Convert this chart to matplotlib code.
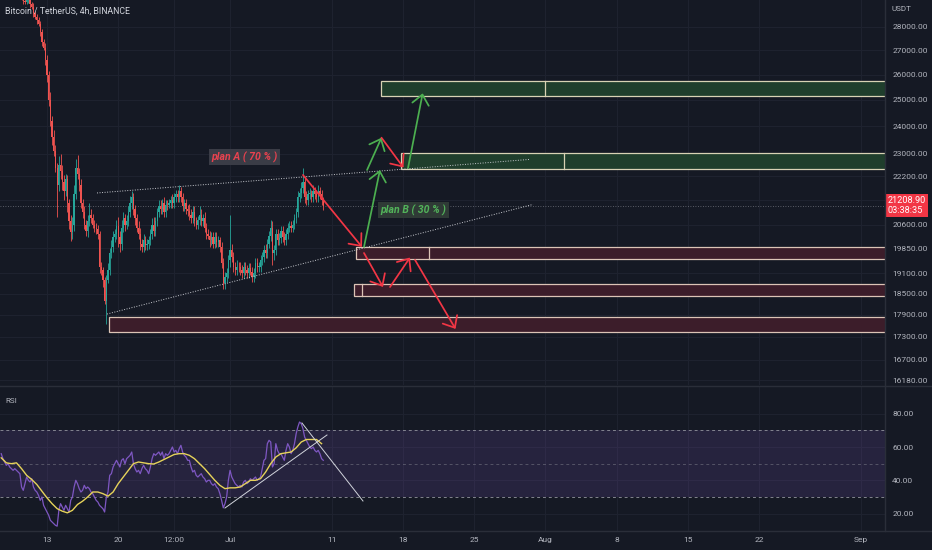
import numpy as np
import matplotlib
matplotlib.use("Agg")
import matplotlib.pyplot as plt
from matplotlib.lines import Line2D
from matplotlib.patches import Rectangle
import matplotlib.transforms as mtransforms
from matplotlib.ticker import NullLocator

plt.rcParams['font.family'] = ['Roboto', 'DejaVu Sans']

BG = '#151924'
GRID = '#1f2330'
SEP = '#2a2e39'
TXT = '#b2b5be'
UP = '#26a69a'
DN = '#ef5350'
ARROW_RED = '#f23645'
ARROW_GREEN = '#4caf50'

# ---------------- data (time = days since 2022-06-01 00:00) ----------------
first_candle_day = 8.0          # 9 Jun 00:00, 4h candles
candle_step = 1 / 6
first_open = 30100
closes = [
    30150, 30300, 30250, 30050, 30200, 30100,   # Jun 9
    30000, 29900, 29600, 29300, 29150, 29100,   # Jun 10
    29200, 29300, 29000, 28900, 28600, 28450,   # Jun 11
    28300, 28150, 27800, 27350, 27100, 26600,   # Jun 12
    26000, 25000, 24200, 23600, 23100, 22500,   # Jun 13
    21900, 22600, 22400, 22000, 21700, 22100,   # Jun 14
    21300, 20700, 20350, 20600, 21600, 22500,   # Jun 15
    22300, 21900, 21300, 21000, 20600, 20400,   # Jun 16
    20700, 20900, 20800, 20600, 20500, 20450,   # Jun 17
    20300, 19300, 19200, 18900, 18300, 18900,   # Jun 18
    19200, 19700, 19900, 20200, 20300, 20550,   # Jun 19
    20200, 20000, 20500, 20800, 20600, 20700,   # Jun 20
    21000, 21300, 21500, 21100, 20800, 20500,   # Jun 21
    20300, 20000, 19900, 20100, 19950, 19980,   # Jun 22
    20100, 20300, 20600, 20400, 20700, 21000,   # Jun 23
    21200, 21100, 21300, 21000, 21250, 21230,   # Jun 24
    21300, 21400, 21300, 21500, 21600, 21500,   # Jun 25
    21700, 21500, 21200, 21300, 21100, 21030,   # Jun 26
    20900, 20800, 21000, 20700, 20600, 20730,   # Jun 27
    20900, 20700, 20800, 20500, 20300, 20250,   # Jun 28
    20100, 20200, 20000, 20200, 20050, 20100,   # Jun 29
    19900, 19400, 18800, 19000, 19100, 19500,   # Jun 30
    19800, 19600, 19300, 19200, 19300, 19280,   # Jul 1
    19200, 19100, 19300, 19200, 19100, 19250,   # Jul 2
    19150, 19000, 19100, 19400, 19300, 19300,   # Jul 3
    19500, 19600, 19800, 19700, 20000, 20230,   # Jul 4
    20500, 19700, 19800, 20300, 20100, 20180,   # Jul 5
    20400, 20200, 20100, 20300, 20500, 20550,   # Jul 6
    20500, 20600, 20800, 21000, 21500, 21620,   # Jul 7
    21800, 22000, 21500, 21400, 21600, 21600,   # Jul 8
    21500, 21700, 21600, 21500, 21700, 21600,   # Jul 9
    21400, 21208.9,                             # Jul 10
]
wick_up = [
    150, 100, 150, 120, 100, 100,
    100, 120, 100, 150, 100, 120,
    150, 120, 100, 100, 150, 100,
    100, 150, 100, 120, 150, 200,
    200, 150, 300, 200, 250, 200,
    150, 300, 400, 200, 250, 200,
    150, 150, 200, 250, 300, 300,
    450, 200, 200, 150, 200, 150,
    200, 400, 200, 150, 150, 150,
    150, 100, 150, 100, 100, 150,
    200, 150, 200, 200, 150, 200,
    300, 200, 250, 200, 150, 200,
    200, 250, 200, 150, 150, 150,
    200, 200, 150, 200, 150, 150,
    150, 150, 200, 250, 150, 150,
    200, 200, 150, 200, 150, 150,
    150, 150, 200, 150, 150, 150,
    200, 150, 150, 150, 150, 150,
    250, 200, 200, 200, 150, 150,
    300, 200, 150, 200, 150, 150,
    150, 150, 150, 150, 150, 150,
    100, 150, 150, 150, 150, 150,
    1100, 200, 150, 150, 200, 150,
    150, 150, 150, 150, 150, 150,
    150, 150, 150, 150, 150, 150,
    150, 150, 150, 200, 150, 150,
    250, 200, 150, 150, 150, 150,
    150, 150, 150, 150, 150, 150,
    150, 150, 150, 150, 200, 200,
    200, 500, 200, 200, 150, 200,
    150, 200, 150, 150, 200, 150,
    150, 100,
]
wick_dn = [
    150, 100, 120, 150, 100, 120,
    120, 150, 100, 120, 150, 100,
    100, 120, 150, 100, 150, 120,
    150, 100, 200, 150, 100, 200,
    300, 250, 200, 300, 200, 150,
    1050, 200, 300, 250, 300, 150,
    300, 250, 280, 200, 200, 150,
    200, 200, 150, 200, 150, 150,
    200, 150, 150, 100, 150, 150,
    150, 200, 150, 200, 100, 650,
    100, 150, 150, 150, 150, 150,
    300, 250, 200, 150, 200, 150,
    150, 150, 200, 200, 200, 150,
    150, 200, 150, 150, 150, 150,
    150, 150, 150, 150, 150, 150,
    150, 150, 150, 150, 150, 150,
    100, 150, 150, 150, 150, 150,
    150, 150, 150, 150, 150, 150,
    150, 150, 150, 150, 150, 150,
    150, 150, 150, 150, 150, 100,
    200, 150, 150, 150, 150, 150,
    150, 150, 150, 150, 150, 150,
    200, 150, 150, 150, 150, 150,
    150, 150, 150, 150, 150, 150,
    100, 150, 150, 150, 150, 150,
    150, 150, 150, 150, 150, 150,
    150, 350, 200, 150, 150, 150,
    150, 150, 150, 150, 150, 150,
    150, 150, 150, 150, 150, 150,
    150, 150, 200, 150, 150, 150,
    150, 150, 150, 150, 150, 150,
    150, 150,
]

rsi_start = 7.5                 # 8 Jun 12:00
rsi_vals = [
    56, 53, 51,
    49, 50, 48, 47, 46, 47,
    46, 45, 44, 36, 34, 38,
    42, 40, 39, 41, 36, 34,
    33, 31, 28, 30, 25, 23,
    21, 19, 16, 15, 14, 13,
    12.5, 22, 26, 24, 22, 25,
    23, 21, 28, 30, 36, 40,
    38, 35, 33, 34, 37, 35,
    36, 35, 33, 32, 30, 28,
    27, 25, 24, 23, 21, 30,
    33, 43, 44, 48, 50, 52,
    50, 48, 52, 53, 50, 53,
    54, 55, 57, 50, 47, 45,
    46, 44, 47, 49, 47, 46,
    44, 48, 53, 56, 55, 56,
    57, 55, 57, 53, 56, 55,
    56, 58, 60, 57, 58, 56,
    59, 61, 57, 55, 54, 52,
    52, 48, 45, 46, 43, 42,
    43, 44, 42, 41, 39, 40,
    40, 38, 37, 38, 36, 35,
    32, 28, 23.5, 26, 30, 40,
    46, 42, 40, 38, 37, 36,
    37, 36, 39, 40, 38, 39,
    41, 40, 41, 42, 40, 41,
    42, 47, 52, 53, 62, 64,
    63, 48, 50, 62, 58, 56,
    56, 54, 52, 58, 62, 60,
    56, 58, 62, 68, 72, 75,
    74, 71, 66, 64, 62, 60,
    59, 60, 58, 57, 58, 56,
    53, 52,
]
rsi_ma_step = 0.5
rsi_ma = [
    53.5, 50.5, 50, 50.5, 47, 43, 40.5, 37.5, 33.5, 29.5,
    26, 23, 21.5, 20.5, 22, 25.5, 27.5, 30, 33, 33,
    32, 30.5, 33, 38, 42, 46, 50, 51, 50.5, 50,
    49.8, 51, 52.5, 54, 55.5, 56, 56, 55, 53, 50,
    47, 43.5, 40, 37, 35, 35.5, 35.5, 36, 38, 40,
    40, 41, 45, 50, 54, 56, 56.5, 57, 59.5, 63,
    64.5, 64.5, 64.5, 62,
]

price_ticks = [28000, 27000, 26000, 25000, 24000, 23000, 22200, 21400,
               20600, 19850, 19100, 18500, 17900, 17300, 16700, 16180]
rsi_ticks = [80, 60, 40, 20]
time_tick_days = [12, 19, 24.5, 30, 40, 47, 54, 61, 68, 75, 82, 92]
time_tick_labels = ['13', '20', '12:00', 'Jul', '11', '18', '25', 'Aug', '8', '15', '22', 'Sep']
last_price = 21208.90
countdown = '03:38:35'

# drawings (anchored in time / price)
zones = [  # start day, low, high, divider day, kind
    (44.84, 25155, 25745, 60.97, 'g'),
    (46.81, 22456, 23022, 62.84, 'g'),
    (42.38, 19517, 19886, 49.56, 'r'),
    (42.14, 18444, 18769, 43.00, 'r'),
    (18.10, 17441, 17852, None, 'r'),
]
trend_lines = [((16.92, 21636), (59.49, 22795)),
               ((17.90, 17926), (59.79, 21254))]
arrows = [
    ((37.17, 22249), (42.97, 19896), 'r'),
    ((43.17, 19896), (44.74, 22422), 'g'),
    ((43.47, 22422), (44.89, 23576), 'g'),
    ((44.89, 23576), (47.05, 22508), 'r'),
    ((47.50, 22490), (48.94, 25259), 'g'),
    ((43.17, 19709), (45.04, 18696), 'r'),
    ((45.73, 18696), (47.69, 19571), 'r'),
    ((48.19, 19496), (52.17, 17517), 'r'),
]
rsi_lines = [((29.50, 23.4), (39.53, 67.2)),
             ((37.07, 74.4), (43.07, 27.6))]
plan_labels = [
    (31.42, 22863, 'plan A ( 70 % )', '#e8424f', '#3a3c46'),
    (48.04, 21073, 'plan B ( 30 % )', '#52b35a', '#2f3a36'),
]

# ---------------- figure ----------------
W, H = 932, 550
fig = plt.figure(figsize=(W / 100, H / 100), dpi=100, facecolor=BG)
axw = 885 / W
ax1 = fig.add_axes([0, 1 - 385 / H, axw, 385 / H], facecolor=BG)
ax2 = fig.add_axes([0, 1 - 531 / H, axw, (531 - 386) / H], facecolor=BG)

xlim = (7.379, 94.40)
for ax in (ax1, ax2):
    ax.set_xlim(*xlim)
    for s in ax.spines.values():
        s.set_visible(False)
    ax.set_axisbelow(True)
    ax.set_xticks(time_tick_days)
    ax.grid(True, color=GRID, lw=0.7)
    ax.yaxis.tick_right()
    ax.tick_params(axis='y', length=0, pad=5.2, labelsize=6, colors=TXT,
                   labelright=True, labelleft=False)
    ax.tick_params(axis='x', length=0, colors=TXT, labelsize=6)

# ---- price pane ----
ax1.set_yscale('log')
ax1.set_ylim(16055, 29199)
ax1.yaxis.set_minor_locator(NullLocator())
ax1.set_yticks(price_ticks)
ax1.set_yticklabels([f'{v:.2f}' for v in price_ticks])
ax1.tick_params(axis='x', labelbottom=False)

n = len(closes)
cx = first_candle_day + np.arange(n) * candle_step
opens = [first_open] + closes[:-1]
highs = [max(o, c) + u for o, c, u in zip(opens, closes, wick_up)]
lows = [min(o, c) - d for o, c, d in zip(opens, closes, wick_dn)]
cols = [UP if c >= o else DN for o, c in zip(opens, closes)]
bottoms = [min(o, c) for o, c in zip(opens, closes)]
heights = [max(abs(c - o), 20) for o, c in zip(opens, closes)]
ax1.vlines(cx, lows, highs, colors=cols, lw=0.6, zorder=3)
ax1.bar(cx, heights, bottom=bottoms, width=0.125, color=cols, lw=0, zorder=3)

# current price line
ax1.axhline(last_price, color='#9598a1', lw=0.6, ls=(0, (1, 2)), alpha=0.7, zorder=2)

# trend lines
for (x0, y0), (x1, y1) in trend_lines:
    ax1.plot([x0, x1], [y0, y1], color='#c8cad0', lw=0.7, ls=(0, (1, 1.6)), zorder=4)

# zones
for x0, lo, hi, div, kind in zones:
    fc = '#1f3e2c' if kind == 'g' else '#3c1d2a'
    ec = '#d8d2b4' if kind == 'g' else '#dcc4b6'
    ax1.add_patch(Rectangle((x0, lo), 200, hi - lo, facecolor=fc, edgecolor=ec,
                            lw=0.9, zorder=3.5))
    if div is not None:
        ax1.plot([div, div], [lo, hi], color=ec, lw=0.9, zorder=3.6)

# arrows
for (x0, y0), (x1, y1), kind in arrows:
    c = ARROW_RED if kind == 'r' else ARROW_GREEN
    ax1.annotate('', xy=(x1, y1), xytext=(x0, y0),
                 arrowprops=dict(arrowstyle='->,head_length=0.7,head_width=0.6',
                                 color=c, lw=1.25, shrinkA=0, shrinkB=0,
                                 mutation_scale=10), zorder=6)

for x, y, s, c, bg in plan_labels:
    ax1.text(x, y, s, color=c, fontsize=7.6, fontstyle='italic', fontweight='bold',
             ha='center', va='center', zorder=7,
             bbox=dict(boxstyle='square,pad=0.22', facecolor=bg, edgecolor='none'))

# price tag
trans = mtransforms.blended_transform_factory(ax1.transAxes, ax1.transData)
ax1.text(1.003, last_price, f'{last_price:.2f}\n{countdown}', transform=trans,
         color='white', fontsize=6.6, ha='left', va='center', linespacing=1.1,
         clip_on=False, zorder=10,
         bbox=dict(boxstyle='square,pad=0.25', facecolor='#f23645', edgecolor='none'))

# ---- RSI pane ----
ax2.set_ylim(9.6, 96.6)
ax2.set_yticks(rsi_ticks)
ax2.set_yticklabels([f'{v:.2f}' for v in rsi_ticks])
ax2.set_xticklabels(time_tick_labels)
ax2.tick_params(axis='x', pad=4)
ax2.axhspan(30, 70, color='#7e57c2', alpha=0.17, lw=0, zorder=1)
for lvl, a in ((70, 0.9), (50, 0.45), (30, 0.9)):
    ax2.axhline(lvl, color='#8d8f99', lw=0.7, ls=(0, (3, 3)), alpha=a, zorder=2)
rx = rsi_start + np.arange(len(rsi_vals)) * candle_step
ax2.plot(rx, rsi_vals, color='#7e57c2', lw=0.9, zorder=4)
mx = rsi_start + np.arange(len(rsi_ma)) * rsi_ma_step
ax2.plot(mx, rsi_ma, color='#e6d35a', lw=1.0, zorder=5)
for (x0, y0), (x1, y1) in rsi_lines:
    ax2.plot([x0, x1], [y0, y1], color='#d1d4dc', lw=0.7, zorder=6)

# separators
fig.add_artist(Line2D([axw, axw], [1 - 531 / H, 1], color=SEP, lw=1))
fig.add_artist(Line2D([0, 1], [1 - 385.5 / H] * 2, color=SEP, lw=1))
fig.add_artist(Line2D([0, 1], [1 - 531 / H] * 2, color=SEP, lw=1))

# header texts
fig.text(5 / W, 1 - 11 / H, 'Bitcoin / TetherUS, 4h, BINANCE', color='#d1d4dc',
         fontsize=6.3, ha='left', va='center')
fig.text(892 / W, 1 - 9 / H, 'USDT', color=TXT, fontsize=5.8, ha='left', va='center')
fig.text(5 / W, 1 - 401 / H, 'RSI', color=TXT, fontsize=5.8, ha='left', va='center')

fig.savefig('out.png', dpi=100, facecolor=BG)
